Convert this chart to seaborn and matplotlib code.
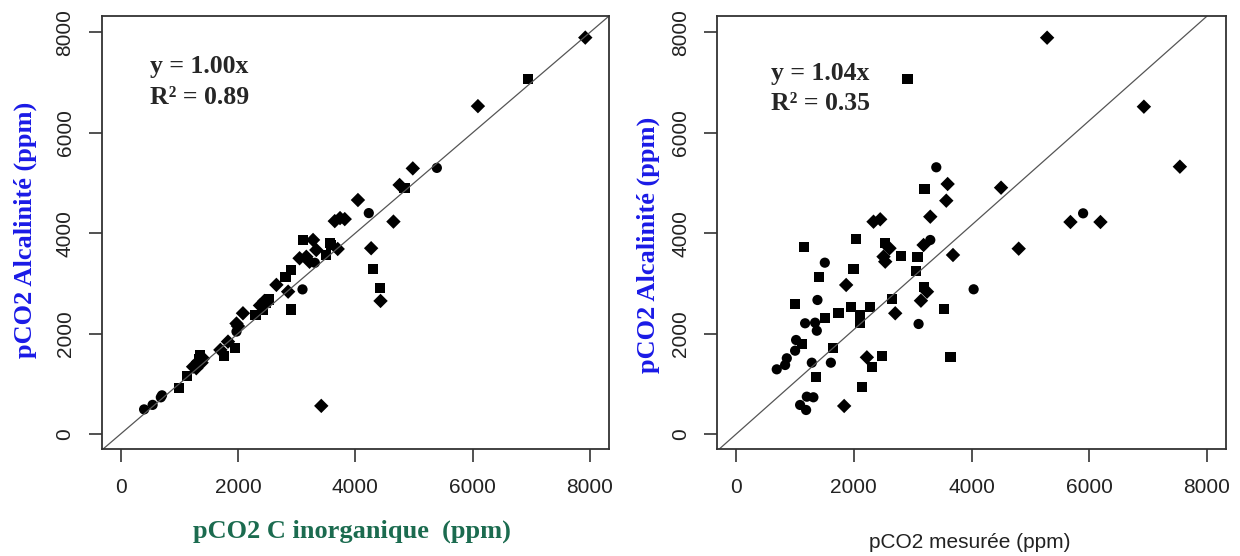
import pandas as pd
import seaborn as sns
import matplotlib.pyplot as plt

sns.set_style('white')
plt.rcParams['font.family'] = ['Liberation Sans', 'DejaVu Sans']

# Left panel: pCO2 from inorganic carbon vs pCO2 from alkalinity
inorg_circle_x = [400, 545, 685, 705, 1975, 3100, 3310, 4230, 5390]
inorg_circle_y = [490, 580, 730, 770, 2040, 2880, 3410, 4400, 5300]
inorg_square_x = [990, 1135, 1330, 1350, 1760, 1945, 2300, 2420, 2480, 2530, 2810,
                  2910, 2910, 3110, 3505, 3565, 3590, 4300, 4415, 4840, 6940]
inorg_square_y = [920, 1155, 1500, 1570, 1550, 1705, 2370, 2470, 2620, 2680, 3120,
                  2480, 3265, 3865, 3560, 3810, 3760, 3280, 2915, 4900, 7065]
inorg_diamond_x = [1235, 1290, 1320, 1380, 1405, 1700, 1830, 1975, 2000, 2085, 2375,
                   2450, 2655, 2855, 3050, 3165, 3220, 3280, 3335, 3420, 3650, 3700,
                   3740, 3820, 4045, 4270, 4430, 4650, 4755, 4980, 6090, 7920]
inorg_diamond_y = [1340, 1310, 1440, 1420, 1505, 1675, 1840, 2200, 2150, 2405, 2560,
                   2650, 2970, 2835, 3500, 3530, 3430, 3865, 3665, 560, 4240, 3685,
                   4300, 4280, 4660, 3700, 2650, 4230, 4960, 5290, 6530, 7895]

# Right panel: measured pCO2 vs pCO2 from alkalinity
meas_circle_x = [3401, 5897, 4036, 3299, 3100, 1381, 1171, 1341, 1370, 1018, 1001,
                 860, 831, 689, 1285, 1609, 1200, 1312, 1086, 1188, 1506]
meas_circle_y = [5312, 4395, 2882, 3864, 2191, 2669, 2205, 2217, 2057, 1872, 1659,
                 1508, 1374, 1288, 1420, 1420, 743, 731, 578, 478, 3412]
meas_square_x = [2912, 3202, 2034, 2533, 2800, 3083, 3060, 1993, 3197, 2647, 3537,
                 1949, 2277, 1738, 2107, 2107, 1001, 1511, 1115, 1643, 1358, 2477,
                 2306, 2136, 3644, 1406, 1154]
meas_square_y = [7064, 4880, 3879, 3811, 3545, 3519, 3253, 3286, 2922, 2683, 2484,
                 2535, 2535, 2404, 2370, 2205, 2589, 2304, 1793, 1707, 1141, 1553,
                 1328, 930, 1540, 3121, 3718]
meas_diamond_x = [5285, 6930, 7542, 4502, 5682, 6192, 4802, 3594, 3571, 3299, 2334,
                  2448, 2606, 3185, 2504, 2533, 3685, 1869, 3243, 3140, 2703, 2221, 1835]
meas_diamond_y = [7893, 6519, 5324, 4906, 4222, 4222, 3691, 4979, 4647, 4328, 4228,
                  4276, 3699, 3764, 3532, 3432, 3565, 2968, 2834, 2655, 2404, 1527, 558]

ticks = [0, 2000, 4000, 6000, 8000]


def make_df(cx, cy, sx, sy, dx, dy):
    parts = [pd.DataFrame({'x': cx, 'y': cy, 'type': 'circle'}),
             pd.DataFrame({'x': sx, 'y': sy, 'type': 'square'}),
             pd.DataFrame({'x': dx, 'y': dy, 'type': 'diamond'})]
    return pd.concat(parts, ignore_index=True)


df_left = make_df(inorg_circle_x, inorg_circle_y, inorg_square_x, inorg_square_y,
                  inorg_diamond_x, inorg_diamond_y)
df_right = make_df(meas_circle_x, meas_circle_y, meas_square_x, meas_square_y,
                   meas_diamond_x, meas_diamond_y)

fig = plt.figure(figsize=(12.4, 5.56), dpi=100)
ax1 = fig.add_axes([0.0820, 0.1919, 0.4094, 0.7793])
ax2 = fig.add_axes([0.5784, 0.1919, 0.4105, 0.7793])

markers = {'circle': 'o', 'square': 's', 'diamond': 'D'}
serif = ['Liberation Serif', 'DejaVu Serif']

for ax, df, slope in [(ax1, df_left, 1.00), (ax2, df_right, 1.04)]:
    sns.scatterplot(data=df, x='x', y='y', style='type', markers=markers,
                    color='black', s=54, linewidth=0, legend=False, ax=ax)
    ax.axline((0, 0), slope=slope, color='#555555', lw=0.9, zorder=1)
    ax.set_xlim(-323, 8330)
    ax.set_ylim(-305, 8325)
    ax.set_xticks(ticks)
    ax.set_yticks(ticks)
    ax.tick_params(axis='both', bottom=True, left=True, direction='out',
                   length=9.5, width=1.1, color='#222222', labelsize=15,
                   labelcolor='#222222')
    ax.tick_params(axis='x', pad=11)
    ax.tick_params(axis='y', pad=10, labelrotation=90)
    for lbl in ax.get_yticklabels():
        lbl.set_va('center')
    for sp in ax.spines.values():
        sp.set_color('#333333')
        sp.set_linewidth(1.3)

# Axis labels
ax1.set_ylabel('pCO2 Alcalinité (ppm)', color='#1a1ae6', fontsize=19,
               fontweight='bold', family=serif, va='center')
ax1.yaxis.set_label_coords(-0.151, 0.506)
ax1.set_xlabel('pCO2 C inorganique  (ppm)', color='#1b6b4f', fontsize=19,
               fontweight='bold', family=serif, va='center')
ax1.xaxis.set_label_coords(0.493, -0.19)

ax2.set_ylabel('pCO2 Alcalinité (ppm)', color='#1a1ae6', fontsize=19,
               fontweight='bold', family=serif, va='center')
ax2.yaxis.set_label_coords(-0.136, 0.471)
ax2.set_xlabel('pCO2 mesurée (ppm)', color='#222222', fontsize=15, va='center')
ax2.xaxis.set_label_coords(0.497, -0.216)

# Regression annotations
ax1.text(0.095, 0.869, 'y = 1.00x', transform=ax1.transAxes, fontsize=18.5,
         fontweight='bold', family=serif, va='baseline')
ax1.text(0.095, 0.797, 'R² = 0.89', transform=ax1.transAxes, fontsize=18.5,
         fontweight='bold', family=serif, va='baseline')
ax2.text(0.105, 0.852, 'y = 1.04x', transform=ax2.transAxes, fontsize=18.5,
         fontweight='bold', family=serif, va='baseline')
ax2.text(0.105, 0.783, 'R² = 0.35', transform=ax2.transAxes, fontsize=18.5,
         fontweight='bold', family=serif, va='baseline')

fig.savefig('out.png', dpi=100)
